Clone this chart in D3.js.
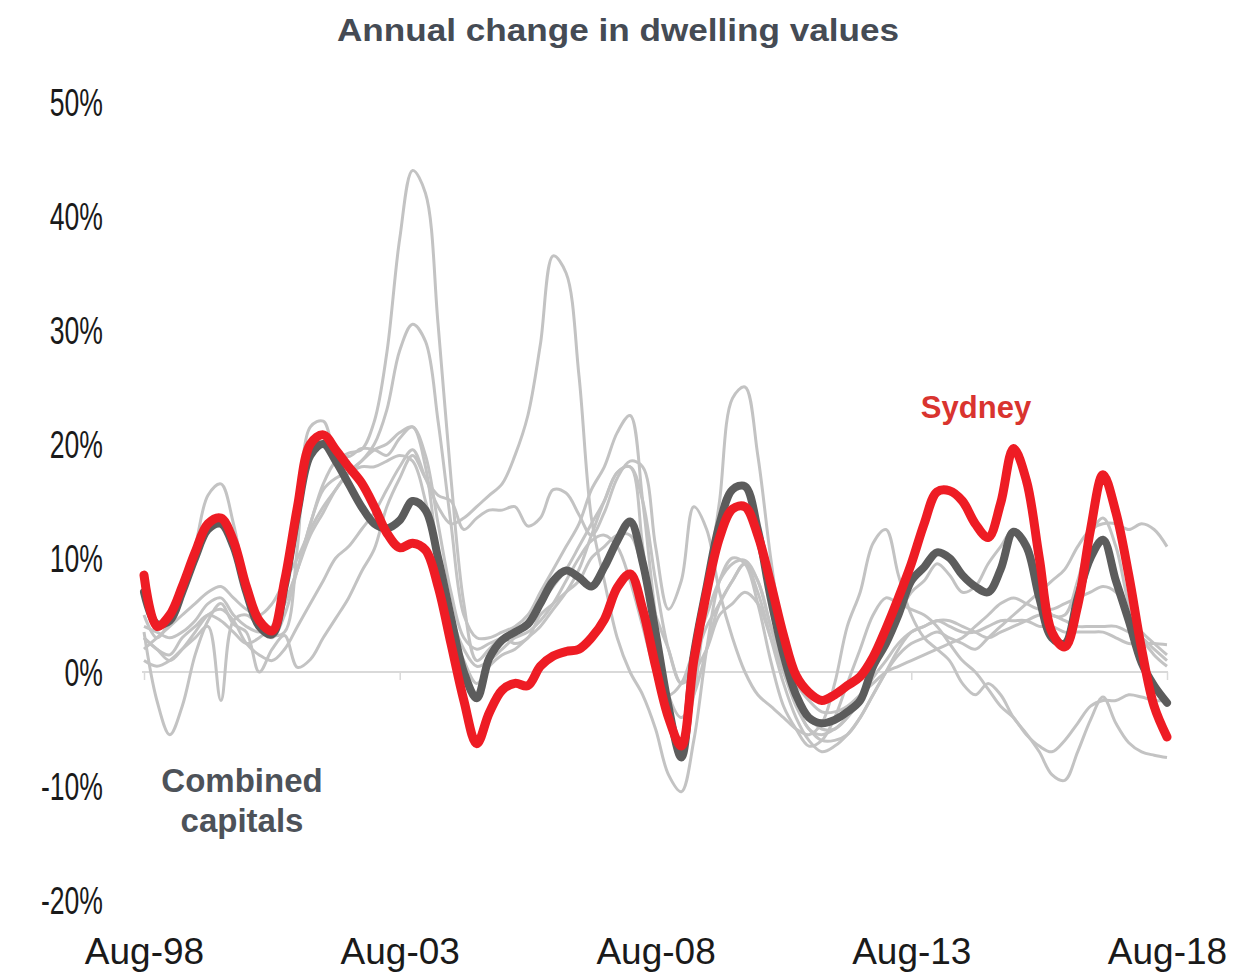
<!DOCTYPE html>
<html>
<head>
<meta charset="utf-8">
<script src="https://cdn.jsdelivr.net/npm/d3@7"></script>
<style>
  html, body { margin: 0; padding: 0; background: #ffffff; }
  svg { display: block; }
</style>
</head>
<body>
<svg id="chart" width="1242" height="979"></svg>
<script>
// Quarterly observations, Aug-1998 to Aug-2018 (annual % change in dwelling values)
const quarters = d3.timeMonth.range(new Date(1998, 7, 1), new Date(2018, 8, 1), 3);

const sydney = [
  8.5, 4.0, 5.0, 7.5, 10.5, 13.0, 13.5, 11.5, 7.5, 4.5,
  3.6, 8.0, 14.5, 20.0, 20.8, 19.5, 18.0, 16.6, 14.5, 12.2,
  10.9, 11.3, 10.7, 7.5, 2.5, -2.5, -6.3, -3.6, -1.6, -1.0,
  -1.2, 0.5, 1.4, 1.8, 2.0, 3.0, 4.6, 7.4, 8.6, 5.5,
  0.5, -4.0, -6.5, 1.0, 7.0, 11.8, 14.3, 14.5, 12.0, 7.8,
  3.2, -0.3, -1.8, -2.5, -2.0, -1.2, -0.4, 1.3, 3.8, 6.5,
  9.5, 13.0, 15.8, 15.9, 15.0, 13.0, 11.8, 14.8, 19.6, 16.8,
  10.0, 3.5, 2.2, 5.8, 12.5, 17.3, 14.0, 8.5, 2.0, -3.0,
  -5.7
];

const combined = [
  7.0, 4.2, 4.5, 7.0, 10.0, 12.5, 13.0, 11.0, 7.0, 4.0,
  3.3, 7.5, 14.0, 19.0, 20.0, 18.5, 16.5, 14.5, 13.0, 12.6,
  13.3, 15.0, 14.2, 10.0, 4.8, 0.0, -2.3, 1.2, 2.8, 3.5,
  4.2, 6.0, 8.0, 8.9, 8.3, 7.5, 9.2, 11.5, 13.2, 9.6,
  3.5, -3.0, -7.5, 1.5, 7.5, 13.0, 16.0, 16.3, 12.5, 6.5,
  1.5, -2.0, -4.0, -4.5, -4.2, -3.5, -2.5, 0.5, 2.5, 5.0,
  8.0, 9.2, 10.5, 10.0, 8.5, 7.5, 7.0, 9.0, 12.3, 11.0,
  6.5, 3.0, 2.5, 6.5, 10.0, 11.6, 8.0, 4.5, 0.8, -1.2,
  -2.7
];

const melbourne = [
  5.0, 3.0, 4.5, 7.5, 11.0, 15.5, 16.5, 13.0, 7.5, 4.0,
  3.2, 3.5, 11.0, 21.5, 22.0, 19.3, 18.9, 19.6, 19.5, 19.0,
  20.5, 21.5, 18.0, 10.0, 4.0, 1.0, -1.0, 0.5, 1.5, 2.0,
  3.0, 4.0, 5.5, 7.0, 9.0, 12.0, 15.0, 17.5, 18.0, 11.0,
  2.0, -4.0, -6.0, -2.0, 7.0, 15.0, 24.0, 25.0, 19.0, 10.0,
  2.5, -2.5, -5.0, -5.5, -5.0, -4.0, -2.5, 0.0, 2.5, 5.0,
  7.0, 8.0, 9.5, 8.5, 7.0, 7.5, 9.5, 11.0, 12.5, 11.5,
  8.0, 5.0, 5.0, 8.0, 12.0, 13.5, 11.0, 6.0, 3.0, 1.5,
  0.5
];

const hobart = [
  3.0, 2.0, 1.5, 3.0, 4.0, 5.0, 4.5, 3.5, 2.5, 3.0,
  4.0, 6.0, 9.0, 13.0, 16.5, 18.5, 19.2, 19.5, 22.0, 28.0,
  38.0, 44.0, 42.0, 30.5, 17.0, 6.0, 1.0, 2.0, 3.0, 2.5,
  3.0, 5.0, 6.0, 7.0, 8.0, 10.0, 11.0, 12.0, 12.0, 9.0,
  5.0, 2.0, -1.0, 0.0, 2.0, 5.0, 6.0, 7.0, 6.0, 3.0,
  0.0, -3.0, -5.0, -6.0, -6.0, -5.5, -4.0, -2.0, 0.0, 1.5,
  2.5, 3.0, 3.5, 3.0, 2.5, 2.0, 3.0, 4.0, 5.0, 6.0,
  7.0, 8.0, 9.0, 11.0, 12.5, 13.0, 13.0, 12.5, 13.0, 12.5,
  11.0
];

const brisbane = [
  4.0, 3.5, 3.0, 3.5, 4.5, 6.0, 6.5, 5.0, 4.0, 3.5,
  4.0, 6.0, 9.0, 12.0, 14.0, 16.0, 17.5, 18.5, 20.0, 23.0,
  28.2, 30.5, 29.0, 22.0, 13.0, 5.0, 3.0, 3.0, 3.5, 4.0,
  5.0, 7.0, 9.0, 11.0, 13.0, 16.0, 18.0, 21.0, 22.5, 15.0,
  5.0, -2.0, -4.0, -2.0, 2.0, 6.0, 8.0, 9.5, 7.0, 3.0,
  -1.0, -4.0, -6.0, -7.0, -6.5, -5.5, -4.0, -2.0, 0.0, 2.0,
  3.5, 4.0, 4.5, 4.0, 3.5, 3.5, 4.0, 4.5, 4.5, 4.5,
  4.0, 4.0, 3.5, 3.5, 3.5, 3.5, 3.0, 2.5, 2.5, 2.5,
  2.4
];

const darwin = [
  3.5, -2.5, -5.5, -3.0, 1.5, 4.5, 6.0, 4.2, 3.5, 0.0,
  2.0, 3.2, 0.4, 1.1, 3.0, 4.7, 6.5, 8.8, 10.8, 14.5,
  17.0, 19.0, 17.0, 15.5, 15.0, 12.5, 13.5, 14.2, 14.2, 14.5,
  12.8, 13.5, 16.0, 15.7, 13.8, 12.0, 14.0, 17.0, 18.5, 18.0,
  11.0, 5.5, 8.0, 14.5, 12.5, 7.0, 3.0, 0.0, -2.0, -3.0,
  -4.0, -5.0, -5.5, -4.5, -1.0, 4.0, 7.0, 11.3, 12.5, 8.5,
  5.0, 3.0, 2.0, 1.0, -1.0, -2.0, -1.0, -2.0, -4.0, -5.4,
  -7.0, -9.0, -9.5, -7.0, -4.2, -2.2, -4.5, -6.2, -7.0, -7.3,
  -7.5
];

const perth = [
  3.0, 2.0, 1.0, 2.0, 3.5, 5.0, 5.5, 4.5, 2.5, 1.5,
  1.0, 2.0, 4.0, 6.0, 8.0, 10.0, 11.0, 12.5, 14.0, 16.0,
  18.0, 19.5, 17.0, 14.5, 13.0, 13.5, 14.5, 15.5, 16.5, 19.0,
  22.5, 28.7, 36.5, 35.0, 26.0, 13.5, 8.0, 3.0, 0.0, -2.0,
  -5.0, -9.0, -10.5, -6.0, 2.0, 8.0, 10.0, 9.5, 6.0, 1.0,
  -3.0, -5.0, -6.5, -6.0, -4.0, -1.0, 2.0, 5.0, 6.5, 6.0,
  5.5, 5.0, 4.0, 2.5, 1.0, 0.0, -1.5, -3.0, -4.0, -5.5,
  -6.5, -7.0, -6.0, -4.5, -3.0, -2.5, -2.5, -2.0, -2.2, -2.5,
  -2.5
];

const adelaide = [
  2.0, 3.0, 4.0, 5.0, 6.0, 7.0, 7.5, 6.5, 5.5, 5.0,
  6.0, 8.0, 10.0, 12.5, 14.5, 16.0, 17.5, 18.5, 19.5, 20.0,
  21.0, 21.5, 19.0, 13.0, 7.0, 3.0, 2.0, 2.5, 3.0, 3.5,
  4.5, 6.0, 7.5, 9.0, 11.0, 13.0, 15.0, 17.5, 18.0, 15.0,
  8.0, 2.0, -1.0, 1.0, 4.0, 6.0, 8.0, 9.5, 8.0, 4.0,
  0.0, -2.5, -4.0, -5.0, -5.0, -4.0, -2.5, -0.5, 1.0, 2.5,
  3.5, 4.0, 4.5, 4.5, 4.0, 3.5, 3.0, 3.5, 4.0, 4.5,
  5.0, 5.0, 4.5, 4.0, 4.0, 4.0, 4.0, 3.5, 3.0, 2.0,
  1.0
];

const canberra = [
  1.0, 0.5, 1.0, 2.0, 3.0, 4.0, -2.5, 4.5, 5.0, 4.0,
  3.0, 5.0, 9.0, 13.0, 16.0, 17.0, 17.5, 18.0, 18.0, 18.5,
  19.0, 18.5, 15.0, 10.0, 5.0, 2.0, 0.5, 1.0, 2.0, 3.0,
  3.5, 4.5, 6.0, 8.0, 10.0, 11.5, 12.0, 11.0, 8.0, 4.0,
  0.0, -2.0, -1.0, 2.0, 5.0, 8.0, 9.5, 9.8, 8.0, 4.0,
  1.0, -1.0, -2.5, -3.5, -3.5, -3.0, -2.0, -1.0, 0.0, 0.5,
  1.0, 1.5, 2.0, 2.5, 3.0, 4.0, 5.0, 6.0, 6.5, 6.0,
  5.5, 5.5, 6.0, 6.5, 7.0, 7.5, 7.0, 5.0, 3.5, 2.5,
  1.5
];

const otherCapitals = [melbourne, hobart, brisbane, darwin, perth, adelaide, canberra];

const yTicks = [-20, -10, 0, 10, 20, 30, 40, 50];
const xTickDates = [new Date(1998, 7, 1), new Date(2003, 7, 1), new Date(2008, 7, 1),
                    new Date(2013, 7, 1), new Date(2018, 7, 1)];
const xTickLabels = ["Aug-98", "Aug-03", "Aug-08", "Aug-13", "Aug-18"];

const svg = d3.select("#chart");

const x = d3.scaleTime()
  .domain([new Date(1998, 7, 1), new Date(2018, 7, 1)])
  .range([144, 1167]);

const y = d3.scaleLinear()
  .domain([-20, 50])
  .range([900, 102]);

const axisFont = "'Liberation Sans', Arial, sans-serif";

// Title
svg.append("text")
  .attr("x", 618).attr("y", 41)
  .attr("text-anchor", "middle")
  .attr("font-family", "'Liberation Sans', Arial, sans-serif")
  .attr("font-weight", "bold")
  .attr("font-size", 31)
  .attr("fill", "#454b54")
  .attr("textLength", 562)
  .attr("lengthAdjust", "spacingAndGlyphs")
  .text("Annual change in dwelling values");

// Zero line with small date ticks
const zeroAxis = svg.append("g")
  .attr("transform", `translate(0,${y(0)})`)
  .call(d3.axisBottom(x).tickValues(xTickDates).tickSize(8).tickSizeOuter(0).tickFormat(""));
zeroAxis.select(".domain").attr("stroke", "#d9d9d9").attr("stroke-width", 2)
  .attr("d", `M${x.range()[0] - 2},0H${x.range()[1] + 1}`);
zeroAxis.selectAll(".tick line").attr("stroke", "#d9d9d9").attr("stroke-width", 1.5);

// Y tick labels (condensed)
const yAxis = svg.append("g")
  .attr("transform", "translate(103,0) scale(0.7,1)")
  .call(d3.axisLeft(y).tickValues(yTicks).tickSize(0).tickPadding(0).tickFormat(d => d + "%"));
yAxis.select(".domain").remove();
yAxis.selectAll("text")
  .attr("font-family", axisFont)
  .attr("font-size", 38)
  .attr("fill", "#1a1a1a")
  .attr("dy", "0.35em");

// X tick labels
const xAxis = svg.append("g")
  .attr("transform", "translate(0,931)")
  .call(d3.axisBottom(x).tickValues(xTickDates).tickSize(0).tickPadding(0)
    .tickFormat((d, i) => xTickLabels[i]));
xAxis.select(".domain").remove();
xAxis.selectAll("text")
  .attr("font-family", axisFont)
  .attr("font-size", 37)
  .attr("fill", "#1a1a1a")
  .attr("dy", "0.88em");

const line = d3.line()
  .x((d, i) => x(quarters[i]))
  .y(d => y(d))
  .curve(d3.curveCatmullRom.alpha(0.5));

// Other capital cities
svg.append("g").selectAll("path")
  .data(otherCapitals)
  .join("path")
  .attr("d", line)
  .attr("fill", "none")
  .attr("stroke", "#c3c3c3")
  .attr("stroke-width", 3)
  .attr("stroke-linejoin", "round");

// Combined capitals
svg.append("path")
  .datum(combined)
  .attr("d", line)
  .attr("fill", "none")
  .attr("stroke", "#5c5c5c")
  .attr("stroke-width", 8)
  .attr("stroke-linejoin", "round")
  .attr("stroke-linecap", "round");

// Sydney
svg.append("path")
  .datum(sydney)
  .attr("d", line)
  .attr("fill", "none")
  .attr("stroke", "#ee1c24")
  .attr("stroke-width", 9)
  .attr("stroke-linejoin", "round")
  .attr("stroke-linecap", "round");

// Series labels
svg.append("text")
  .attr("x", 976).attr("y", 418)
  .attr("text-anchor", "middle")
  .attr("font-family", "'Liberation Sans', Arial, sans-serif")
  .attr("font-weight", "bold")
  .attr("font-size", 31)
  .attr("fill", "#d9342f")
  .text("Sydney");

const combinedLabel = svg.append("text")
  .attr("text-anchor", "middle")
  .attr("font-family", "'Liberation Sans', Arial, sans-serif")
  .attr("font-weight", "bold")
  .attr("font-size", 33)
  .attr("fill", "#4d5259");
combinedLabel.append("tspan").attr("x", 242).attr("y", 792).text("Combined");
combinedLabel.append("tspan").attr("x", 242).attr("y", 832).text("capitals");
</script>
</body>
</html>
